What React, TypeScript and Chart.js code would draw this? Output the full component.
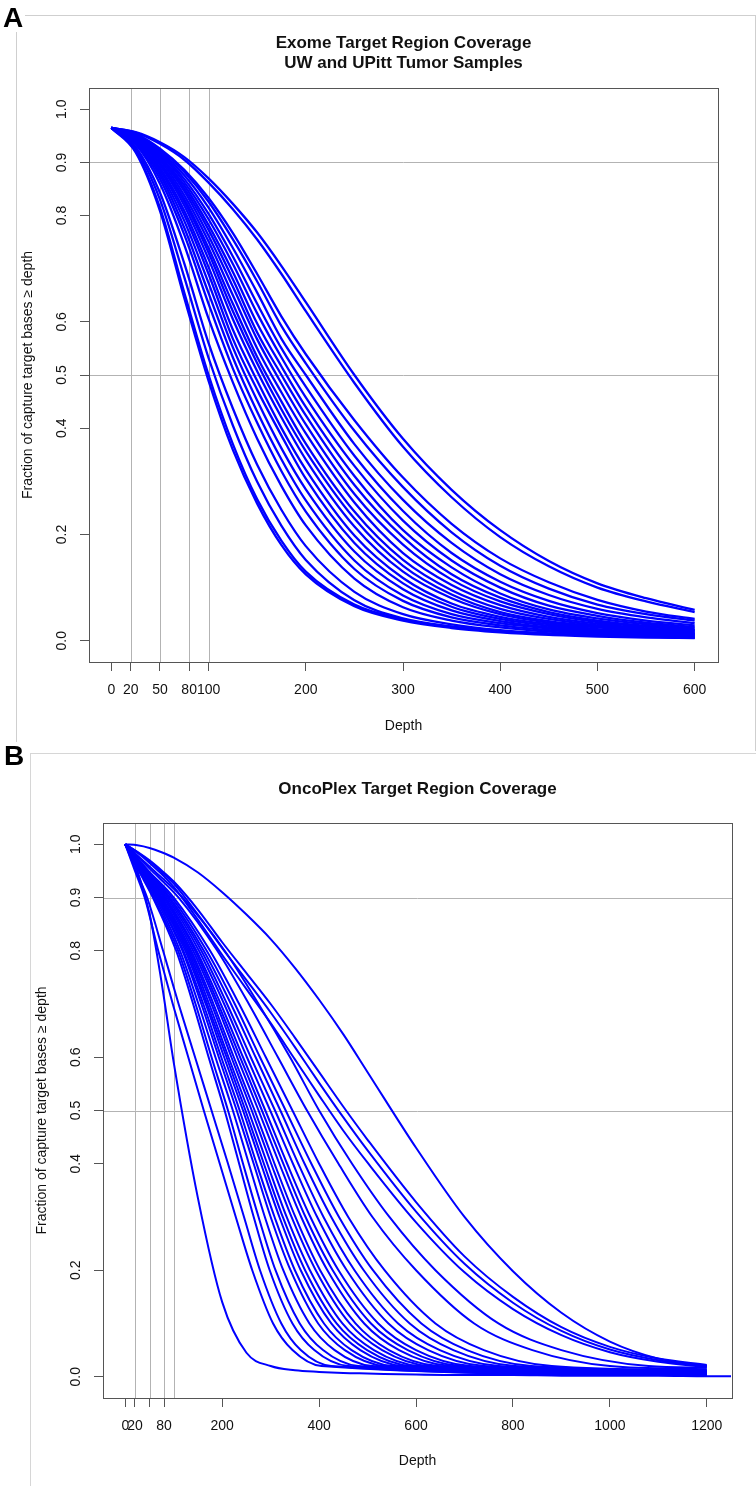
import React, { useEffect, useRef } from 'react';
import { Chart, registerables } from 'chart.js';

Chart.register(...registerables);

const FONT = "'Liberation Sans', Arial, Helvetica, sans-serif";
Chart.defaults.font.family = FONT;
Chart.defaults.color = '#111';

// ---------------- Panel A (values read on a depth grid) ----------------
const depthsA = [0, 25, 50, 75, 100, 125, 150, 175, 200, 250, 300, 350, 400, 450, 500, 550, 600];
const curvesA: number[][] = [
  [0.965, 0.919, 0.809, 0.645, 0.489, 0.359, 0.258, 0.18, 0.125, 0.065, 0.038, 0.024, 0.016, 0.011, 0.008, 0.006, 0.005],
  [0.965, 0.921, 0.815, 0.655, 0.5, 0.37, 0.266, 0.188, 0.13, 0.068, 0.04, 0.026, 0.018, 0.013, 0.01, 0.008, 0.006],
  [0.965, 0.925, 0.83, 0.684, 0.532, 0.405, 0.299, 0.216, 0.152, 0.076, 0.042, 0.027, 0.018, 0.013, 0.01, 0.008, 0.006],
  [0.965, 0.929, 0.843, 0.71, 0.56, 0.437, 0.331, 0.246, 0.178, 0.092, 0.05, 0.031, 0.02, 0.014, 0.01, 0.008, 0.006],
  [0.965, 0.934, 0.86, 0.745, 0.606, 0.486, 0.38, 0.291, 0.217, 0.117, 0.063, 0.038, 0.025, 0.017, 0.012, 0.009, 0.007],
  [0.965, 0.936, 0.869, 0.764, 0.634, 0.512, 0.41, 0.319, 0.243, 0.135, 0.075, 0.044, 0.029, 0.02, 0.014, 0.011, 0.009],
  [0.965, 0.938, 0.876, 0.777, 0.654, 0.533, 0.431, 0.341, 0.264, 0.151, 0.085, 0.05, 0.033, 0.023, 0.016, 0.012, 0.01],
  [0.965, 0.94, 0.881, 0.79, 0.673, 0.552, 0.452, 0.362, 0.285, 0.168, 0.097, 0.057, 0.037, 0.025, 0.018, 0.013, 0.011],
  [0.965, 0.941, 0.886, 0.801, 0.69, 0.568, 0.472, 0.386, 0.305, 0.184, 0.108, 0.064, 0.041, 0.028, 0.02, 0.015, 0.012],
  [0.965, 0.942, 0.89, 0.809, 0.703, 0.585, 0.489, 0.4, 0.322, 0.198, 0.118, 0.07, 0.045, 0.031, 0.022, 0.016, 0.013],
  [0.965, 0.943, 0.895, 0.819, 0.718, 0.605, 0.507, 0.42, 0.341, 0.215, 0.13, 0.08, 0.05, 0.034, 0.025, 0.018, 0.014],
  [0.965, 0.945, 0.898, 0.826, 0.73, 0.62, 0.522, 0.435, 0.357, 0.23, 0.141, 0.087, 0.054, 0.037, 0.027, 0.02, 0.015],
  [0.965, 0.946, 0.9, 0.831, 0.739, 0.634, 0.534, 0.45, 0.371, 0.243, 0.152, 0.095, 0.06, 0.041, 0.029, 0.021, 0.017],
  [0.965, 0.947, 0.904, 0.838, 0.751, 0.65, 0.55, 0.467, 0.39, 0.26, 0.165, 0.105, 0.067, 0.045, 0.032, 0.023, 0.018],
  [0.965, 0.948, 0.907, 0.846, 0.762, 0.666, 0.567, 0.484, 0.407, 0.276, 0.181, 0.115, 0.074, 0.05, 0.035, 0.026, 0.02],
  [0.965, 0.949, 0.91, 0.851, 0.773, 0.68, 0.58, 0.5, 0.424, 0.293, 0.195, 0.125, 0.081, 0.054, 0.038, 0.028, 0.021],
  [0.965, 0.95, 0.912, 0.857, 0.782, 0.694, 0.597, 0.516, 0.44, 0.31, 0.208, 0.138, 0.089, 0.059, 0.042, 0.031, 0.023],
  [0.965, 0.95, 0.915, 0.863, 0.793, 0.709, 0.616, 0.533, 0.458, 0.329, 0.226, 0.151, 0.1, 0.066, 0.047, 0.034, 0.026],
  [0.965, 0.951, 0.918, 0.869, 0.803, 0.723, 0.634, 0.55, 0.478, 0.348, 0.244, 0.165, 0.111, 0.075, 0.052, 0.038, 0.029],
  [0.965, 0.952, 0.921, 0.876, 0.815, 0.739, 0.655, 0.568, 0.5, 0.37, 0.265, 0.184, 0.125, 0.086, 0.06, 0.044, 0.033],
  [0.965, 0.953, 0.924, 0.882, 0.826, 0.755, 0.676, 0.592, 0.522, 0.395, 0.289, 0.204, 0.141, 0.098, 0.068, 0.05, 0.038],
  [0.965, 0.954, 0.926, 0.886, 0.833, 0.767, 0.69, 0.61, 0.539, 0.415, 0.307, 0.22, 0.155, 0.11, 0.077, 0.055, 0.041],
  [0.965, 0.956, 0.935, 0.905, 0.862, 0.812, 0.755, 0.69, 0.62, 0.485, 0.365, 0.27, 0.195, 0.14, 0.1, 0.074, 0.054],
  [0.965, 0.957, 0.938, 0.91, 0.87, 0.822, 0.768, 0.705, 0.637, 0.5, 0.38, 0.284, 0.208, 0.15, 0.108, 0.08, 0.058],
];
const xTicksA = [0, 20, 50, 80, 100, 200, 300, 400, 500, 600];
const xTickLabelsA = ['0', '20', '50', '80', '100', '200', '300', '400', '500', '600'];
const titleA = ['Exome Target Region Coverage', 'UW and UPitt Tumor Samples'];

// ---------------- Panel B ----------------
// upper curves, read on a depth grid
const depthsB = [0, 25, 50, 75, 100, 150, 200, 250, 300, 350, 400, 450, 500, 600, 700, 800, 900, 1000, 1100, 1200];
const upperCurvesB: number[][] = [
  [1, 0.998, 0.993, 0.985, 0.975, 0.947, 0.91, 0.868, 0.822, 0.768, 0.708, 0.643, 0.572, 0.43, 0.3, 0.198, 0.12, 0.066, 0.034, 0.02],
  [1, 0.985, 0.968, 0.948, 0.926, 0.868, 0.805, 0.745, 0.684, 0.619, 0.552, 0.487, 0.425, 0.31, 0.212, 0.139, 0.086, 0.051, 0.031, 0.02],
  [1, 0.984, 0.965, 0.944, 0.92, 0.858, 0.792, 0.728, 0.664, 0.596, 0.528, 0.462, 0.402, 0.29, 0.196, 0.127, 0.078, 0.046, 0.028, 0.018],
  [1, 0.986, 0.97, 0.951, 0.93, 0.877, 0.816, 0.758, 0.7, 0.637, 0.572, 0.507, 0.445, 0.328, 0.226, 0.15, 0.093, 0.056, 0.034, 0.022],
];
// remaining curves: depth at which each curve crosses these coverage levels
const crossLevelsB = [0.95, 0.9, 0.8, 0.7, 0.6, 0.5, 0.4, 0.3, 0.2, 0.1, 0.05, 0.02];
const crossDepthsB: number[][] = [
  [20, 40, 68, 98, 130, 162, 195, 228, 262, 305, 345, 405],
  [22, 45, 78, 110, 144, 178, 212, 245, 278, 322, 362, 425],
  [28, 57, 105, 140, 172, 205, 235, 265, 298, 345, 390, 460],
  [29, 59, 109, 145, 178, 212, 243, 275, 310, 360, 408, 481],
  [30, 62, 113, 151, 186, 222, 255, 288, 326, 380, 432, 510],
  [32, 65, 118, 157, 193, 230, 265, 300, 341, 398, 453, 536],
  [32, 66, 120, 161, 198, 236, 271, 308, 350, 410, 467, 552],
  [33, 69, 124, 166, 204, 243, 280, 318, 362, 425, 485, 573],
  [34, 70, 127, 169, 209, 248, 286, 325, 371, 436, 499, 590],
  [35, 72, 130, 173, 213, 254, 293, 333, 381, 448, 513, 607],
  [36, 74, 133, 178, 219, 261, 301, 343, 393, 463, 530, 628],
  [37, 76, 136, 182, 224, 267, 308, 351, 402, 475, 544, 645],
  [38, 79, 140, 188, 231, 275, 318, 363, 417, 493, 565, 670],
  [39, 81, 144, 192, 237, 282, 326, 372, 428, 507, 583, 691],
  [40, 83, 147, 197, 243, 289, 334, 382, 440, 522, 600, 712],
  [41, 86, 152, 204, 251, 299, 346, 396, 457, 543, 625, 741],
  [43, 89, 157, 210, 259, 309, 357, 409, 473, 563, 649, 771],
  [44, 92, 162, 218, 269, 320, 370, 425, 492, 587, 677, 804],
  [46, 96, 168, 226, 278, 331, 384, 441, 511, 611, 705, 838],
  [48, 100, 175, 235, 290, 345, 400, 460, 535, 640, 740, 880],
  [55, 110, 190, 255, 315, 375, 440, 510, 600, 720, 840, 1000],
  [60, 118, 205, 275, 340, 400, 468, 545, 640, 770, 900, 1080],
];
const crossEndB = [0.003, 0.003, 0.004, 0.004, 0.005, 0.005, 0.006, 0.006, 0.007, 0.007, 0.008, 0.008, 0.008, 0.009, 0.009, 0.01, 0.01, 0.011, 0.011, 0.012, 0.014, 0.017];
// the steepest sample, which continues past 1200
const depthsBSteep = [0, 25, 50, 75, 100, 150, 200, 250, 300, 350, 400, 450, 500, 600, 700, 800, 900, 1000, 1100, 1200, 1250];
const steepB = [1, 0.95, 0.87, 0.74, 0.59, 0.335, 0.14, 0.045, 0.02, 0.012, 0.009, 0.007, 0.006, 0.004, 0.003, 0.003, 0.002, 0.002, 0.002, 0.001, 0.001];
const xTicksB = [0, 20, 50, 80, 200, 400, 600, 800, 1000, 1200];
const xTickLabelsB = ['0', '20', '', '80', '200', '400', '600', '800', '1000', '1200'];
const titleB = ['OncoPlex Target Region Coverage'];

// ---------------- shared ----------------
const yTicks = [0, 0.2, 0.4, 0.5, 0.6, 0.8, 0.9, 1.0];
const yTickLabels = ['0.0', '0.2', '0.4', '0.5', '0.6', '0.8', '0.9', '1.0'];
const hRefLines = [0.5, 0.9];
const vRefLines = [20, 50, 80, 100];
const yTitle = 'Fraction of capture target bases \u2265 depth';
const xTitle = 'Depth';

type Pt = { x: number; y: number };

type Spec = {
  top: number;
  w: number;
  h: number;
  series: Pt[][];
  xMin: number;
  xMax: number;
  xTicks: number[];
  xLabels: string[];
  padTop: number;
  padRight: number;
  yAxisW: number;
  xAxisH: number;
  xTickPad: number;
  xTitlePad: number;
  yTitlePad: number;
  lw: number;
  title: string[];
  titleBase: number[];
};

const gridSeries = (depths: number[], vals: number[]): Pt[] => vals.map((v, i) => ({ x: depths[i], y: v }));

const crossSeries = (d: number[], end: number): Pt[] => [
  { x: 0, y: 1 },
  ...d.map((x, i) => ({ x, y: crossLevelsB[i] })),
  { x: 1200, y: end },
];

function buildConfig(s: Spec): any {
  const datasets: any[] = s.series.map((pts) => ({
    data: pts,
    borderColor: '#0000ff',
    borderWidth: s.lw,
    pointRadius: 0,
    fill: false,
    cubicInterpolationMode: 'monotone',
  }));

  const refLines = {
    id: 'refLines',
    beforeDatasetsDraw(chart: any) {
      const { ctx, chartArea: a, scales } = chart;
      const x = scales.x;
      const y = scales.y;
      ctx.save();
      ctx.strokeStyle = '#b3b3b3';
      ctx.lineWidth = 1;
      ctx.beginPath();
      for (const v of hRefLines) {
        const py = Math.round(y.getPixelForValue(v)) + 0.5;
        ctx.moveTo(a.left, py);
        ctx.lineTo(a.right, py);
      }
      for (const v of vRefLines) {
        const px = Math.round(x.getPixelForValue(v)) + 0.5;
        ctx.moveTo(px, a.top);
        ctx.lineTo(px, a.bottom);
      }
      ctx.stroke();
      ctx.restore();
    },
  };

  const frame = {
    id: 'frame',
    afterDatasetsDraw(chart: any) {
      const { ctx, chartArea: a } = chart;
      ctx.save();
      ctx.strokeStyle = '#555';
      ctx.lineWidth = 1;
      ctx.strokeRect(Math.round(a.left) + 0.5, Math.round(a.top) + 0.5, Math.round(a.right - a.left), Math.round(a.bottom - a.top));
      ctx.restore();
    },
  };

  const titles = {
    id: 'rTitles',
    afterDraw(chart: any) {
      const { ctx, chartArea: a } = chart;
      ctx.save();
      ctx.font = `bold 17px ${FONT}`;
      ctx.fillStyle = '#111';
      ctx.textAlign = 'center';
      ctx.textBaseline = 'alphabetic';
      const cx = (a.left + a.right) / 2;
      s.title.forEach((t, i) => ctx.fillText(t, cx, s.titleBase[i]));
      ctx.restore();
    },
  };

  return {
    type: 'line',
    data: { datasets },
    options: {
      responsive: false,
      animation: false,
      events: [],
      layout: { padding: { top: s.padTop, right: s.padRight, left: 0, bottom: 0 } },
      plugins: {
        legend: { display: false },
        tooltip: { enabled: false },
        title: { display: false },
      },
      scales: {
        x: {
          type: 'linear',
          min: s.xMin,
          max: s.xMax,
          afterFit: (sc: any) => {
            sc.height = s.xAxisH;
          },
          afterBuildTicks: (sc: any) => {
            sc.ticks = s.xTicks.map((v) => ({ value: v }));
          },
          ticks: {
            autoSkip: false,
            maxRotation: 0,
            minRotation: 0,
            padding: s.xTickPad,
            color: '#111',
            font: { size: 14, family: FONT },
            callback: (_v: any, i: number) => s.xLabels[i],
          },
          grid: { drawOnChartArea: false, drawTicks: true, tickLength: 9, tickColor: '#555', lineWidth: 1 },
          border: { display: false },
          title: {
            display: true,
            text: xTitle,
            color: '#111',
            font: { size: 14, family: FONT },
            padding: { top: 0, bottom: s.xTitlePad },
          },
        },
        y: {
          type: 'linear',
          min: -0.04,
          max: 1.04,
          afterFit: (sc: any) => {
            sc.width = s.yAxisW;
          },
          afterBuildTicks: (sc: any) => {
            sc.ticks = yTicks.map((v) => ({ value: v }));
          },
          ticks: {
            autoSkip: false,
            minRotation: 90,
            maxRotation: 90,
            crossAlign: 'center',
            padding: 8,
            color: '#111',
            font: { size: 14, family: FONT },
            callback: (_v: any, i: number) => yTickLabels[i],
          },
          grid: { drawOnChartArea: false, drawTicks: true, tickLength: 9, tickColor: '#555', lineWidth: 1 },
          border: { display: false },
          title: {
            display: true,
            text: yTitle,
            color: '#111',
            font: { size: 14, family: FONT },
            padding: { top: s.yTitlePad, bottom: 0 },
          },
        },
      },
    },
    plugins: [refLines, frame, titles],
  };
}

const specA: Spec = {
  top: 0,
  w: 756,
  h: 750,
  series: curvesA.map((vals) => gridSeries(depthsA, vals)),
  xMin: -23,
  xMax: 624,
  xTicks: xTicksA,
  xLabels: xTickLabelsA,
  padTop: 88,
  padRight: 38,
  yAxisW: 89,
  xAxisH: 88,
  xTickPad: 11,
  xTitlePad: 15.6,
  yTitlePad: 19.6,
  lw: 2.3,
  title: titleA,
  titleBase: [48, 68],
};

const specB: Spec = {
  top: 750,
  w: 756,
  h: 736,
  series: [
    ...upperCurvesB.map((vals) => gridSeries(depthsB, vals)),
    ...crossDepthsB.map((d, i) => crossSeries(d, crossEndB[i])),
    gridSeries(depthsBSteep, steepB),
  ],
  xMin: -46,
  xMax: 1252,
  xTicks: xTicksB,
  xLabels: xTickLabelsB,
  padTop: 73,
  padRight: 24,
  yAxisW: 103,
  xAxisH: 88,
  xTickPad: 10.5,
  xTitlePad: 16.6,
  yTitlePad: 33.6,
  lw: 2,
  title: titleB,
  titleBase: [44],
};

function Panel({ spec }: { spec: Spec }) {
  const ref = useRef<HTMLCanvasElement>(null);
  useEffect(() => {
    if (!ref.current) return;
    const chart = new Chart(ref.current, buildConfig(spec));
    return () => chart.destroy();
  }, [spec]);
  return (
    <canvas
      ref={ref}
      width={spec.w}
      height={spec.h}
      style={{ position: 'absolute', left: 0, top: spec.top, width: spec.w, height: spec.h, display: 'block' }}
    />
  );
}

export default function App() {
  const letter: React.CSSProperties = {
    position: 'absolute',
    font: `bold 28px ${FONT}`,
    lineHeight: '28px',
    color: '#000',
    background: '#fff',
    paddingRight: 2,
    zIndex: 3,
  };
  return (
    <div style={{ position: 'absolute', left: 0, top: 0, width: 756, height: 1486, background: '#fff', overflow: 'hidden' }}>
      <div
        style={{
          position: 'absolute',
          left: 16,
          top: 15,
          width: 738,
          height: 735,
          borderTop: '1px solid #cfcfcf',
          borderLeft: '1px solid #cfcfcf',
          borderRight: '1px solid #cfcfcf',
        }}
      />
      <div
        style={{
          position: 'absolute',
          left: 30,
          top: 753,
          width: 726,
          height: 733,
          borderTop: '1px solid #d6d6d6',
          borderLeft: '1px solid #d6d6d6',
        }}
      />
      <div style={{ position: 'absolute', left: 0, top: 0, width: 756, height: 1486, zIndex: 2 }}>
        <Panel spec={specA} />
        <Panel spec={specB} />
      </div>
      <div style={{ ...letter, left: 3, top: 4 }}>A</div>
      <div style={{ ...letter, left: 4, top: 742 }}>B</div>
    </div>
  );
}
